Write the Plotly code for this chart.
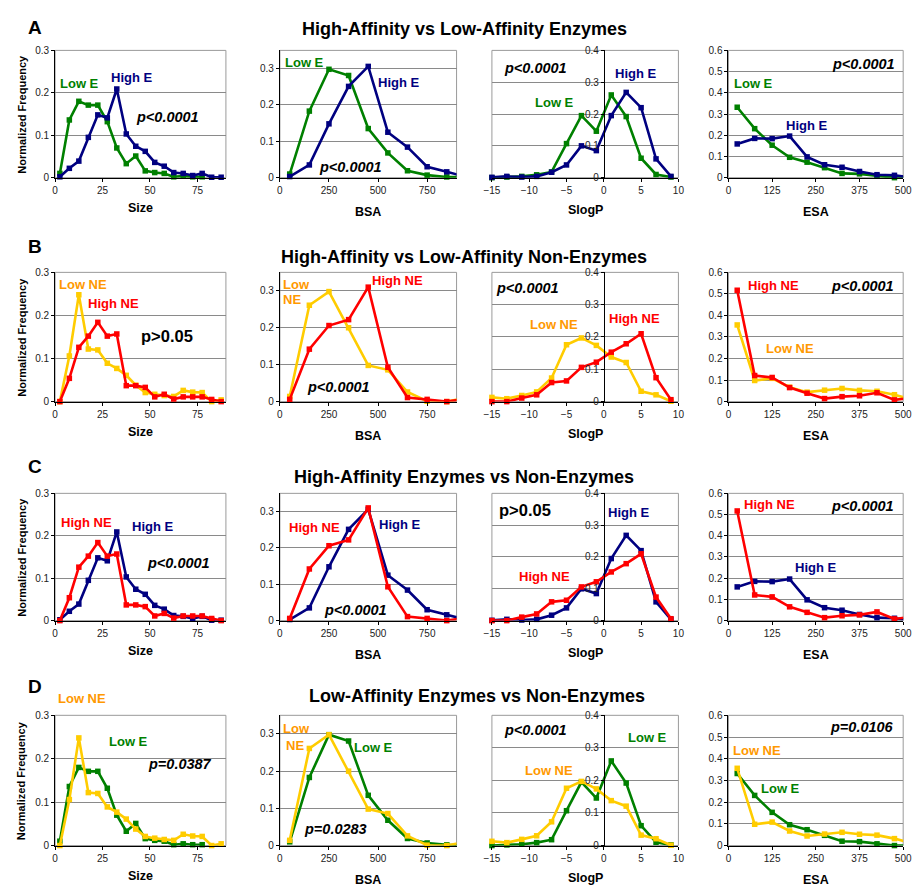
import plotly.graph_objects as go

# ---------------- data ----------------
size_x = [2.5, 7.5, 12.5, 17.5, 22.5, 27.5, 32.5, 37.5, 42.5, 47.5,
          52.5, 57.5, 62.5, 67.5, 72.5, 77.5, 82.5, 87.5]
size_high_e = [0.002, 0.022, 0.039, 0.095, 0.148, 0.141, 0.209, 0.103, 0.074, 0.062,
               0.036, 0.027, 0.012, 0.010, 0.005, 0.010, 0.001, 0.001]
size_low_e = [0.010, 0.136, 0.180, 0.171, 0.171, 0.132, 0.070, 0.033, 0.051, 0.016,
              0.012, 0.010, 0.002, 0.004, 0.002, 0.002, None, None]
size_high_ne = [0.0, 0.054, 0.126, 0.152, 0.184, 0.152, 0.157, 0.037, 0.037, 0.033,
                0.011, 0.017, 0.006, 0.011, 0.011, 0.011, 0.005, 0.0]
size_low_ne = [0.0, 0.106, 0.248, 0.122, 0.120, 0.089, 0.077, 0.061, 0.038, 0.021,
               0.017, 0.014, 0.012, 0.026, 0.022, 0.021, 0.0, 0.004]

bsa_x = [50, 150, 250, 350, 450, 550, 650, 750, 850, 950]
bsa_high_e = [0.003, 0.035, 0.148, 0.251, 0.306, 0.125, 0.084, 0.030, 0.016, 0.002]
bsa_low_e = [0.010, 0.183, 0.298, 0.281, 0.135, 0.068, 0.019, 0.007, 0.002, 0.001]
bsa_high_ne = [0.006, 0.142, 0.206, 0.222, 0.310, 0.093, 0.011, 0.006, 0.0, 0.008]
bsa_low_ne = [0.014, 0.261, 0.298, 0.200, 0.098, 0.086, 0.026, 0.001, 0.0, 0.010]

slogp_x = [-15, -13, -11, -9, -7, -5, -3, -1, 1, 3, 5, 7, 9]
slogp_high_e = [0.001, 0.004, 0.002, 0.004, 0.017, 0.040, 0.100, 0.085, 0.195, 0.268, 0.220, 0.059, 0.004]
slogp_low_e = [0.0, 0.002, 0.004, 0.009, 0.018, 0.107, 0.195, 0.146, 0.260, 0.192, 0.061, 0.010, 0.002]
slogp_high_ne = [0.0, 0.0, 0.011, 0.021, 0.059, 0.064, 0.106, 0.122, 0.153, 0.179, 0.210, 0.074, 0.006]
slogp_low_ne = [0.013, 0.009, 0.019, 0.030, 0.073, 0.176, 0.197, 0.174, 0.138, 0.121, 0.032, 0.021, 0.001]

esa_x = [25, 75, 125, 175, 225, 275, 325, 375, 425, 475, 525]
esa_high_e = [0.159, 0.185, 0.184, 0.196, 0.098, 0.061, 0.049, 0.029, 0.014, 0.011, 0.0]
esa_low_e = [0.332, 0.231, 0.153, 0.096, 0.073, 0.047, 0.020, 0.018, 0.008, 0.0, 0.0]
esa_high_ne = [0.517, 0.121, 0.112, 0.065, 0.039, 0.014, 0.023, 0.027, 0.041, 0.008, 0.018]
esa_low_ne = [0.356, 0.098, 0.108, 0.067, 0.044, 0.053, 0.061, 0.052, 0.048, 0.032, 0.010]

row_titles = ["High-Affinity vs Low-Affinity Enzymes",
              "High-Affinity vs Low-Affinity Non-Enzymes",
              "High-Affinity Enzymes vs Non-Enzymes",
              "Low-Affinity Enzymes vs Non-Enzymes"]
row_letters = ["A", "B", "C", "D"]
# series drawn in each row (first drawn underneath)
row_series = [["low_e", "high_e"], ["low_ne", "high_ne"],
              ["high_e", "high_ne"], ["low_e", "low_ne"]]

# ---------------- styling ----------------
W, H = 922, 892
FONT = "Liberation Sans, Arial, Helvetica, sans-serif"
NAVY, GREEN, RED, GOLD, ORANGE = "#000080", "#008000", "#FF0000", "#FFCC00", "#FF9900"
LINE_COL = {"high_e": NAVY, "low_e": GREEN, "high_ne": RED, "low_ne": GOLD}
GRID = "#8a8a8a"

series = {
    "size": {"high_e": size_high_e, "low_e": size_low_e, "high_ne": size_high_ne, "low_ne": size_low_ne},
    "bsa": {"high_e": bsa_high_e, "low_e": bsa_low_e, "high_ne": bsa_high_ne, "low_ne": bsa_low_ne},
    "slogp": {"high_e": slogp_high_e, "low_e": slogp_low_e, "high_ne": slogp_high_ne, "low_ne": slogp_low_ne},
    "esa": {"high_e": esa_high_e, "low_e": esa_low_e, "high_ne": esa_high_ne, "low_ne": esa_low_ne},
}

panels = [
    dict(key="size", x=size_x, xr=[0, 90], dt=25, ymax=0.3, title="Size", off=31, cx=(48, 222)),
    dict(key="bsa", x=bsa_x, xr=[0, 900], dt=250, ymax=0.35, title="BSA", off=35, cx=(277, 457)),
    dict(key="slogp", x=slogp_x, xr=[-15, 10], dt=5, ymax=0.4, title="SlogP", off=33, cx=(493, 683)),
    dict(key="esa", x=esa_x, xr=[0, 500], dt=125, ymax=0.6, title="ESA", off=35, cx=(734, 912)),
]
rows_px = [(45, 174), (270, 401), (494, 623), (719, 851)]
title_px = [(465, 23), (465, 254), (465, 477), (478, 699)]
letter_px = [(28, 22), (28, 244), (28, 467), (28, 690)]

# in-panel labels: (row, col, text, x_px, y_px, color, kind)
labels = [
    (0, 0, "Low E", 73, 79, GREEN, "lab"), (0, 0, "High E", 126, 72, NAVY, "lab"),
    (0, 0, "p&lt;0.0001", 163, 113, "black", "p"),
    (0, 1, "Low E", 302, 57, GREEN, "lab"), (0, 1, "High E", 398, 78, NAVY, "lab"),
    (0, 1, "p&lt;0.0001", 349, 163, "black", "p"),
    (0, 2, "p&lt;0.0001", 537, 63, "black", "p"), (0, 2, "High E", 639, 68, NAVY, "lab"),
    (0, 2, "Low E", 557, 98, GREEN, "lab"),
    (0, 3, "p&lt;0.0001", 872, 59, "black", "p"), (0, 3, "Low E", 759, 79, GREEN, "lab"),
    (0, 3, "High E", 813, 121, NAVY, "lab"),

    (1, 0, "Low NE", 76, 282, ORANGE, "lab"), (1, 0, "High NE", 107, 302, RED, "lab"),
    (1, 0, "p&gt;0.05", 162, 335, "black", "pbig"),
    (1, 1, "Low", 294, 282, ORANGE, "lab"), (1, 1, "NE", 289, 298, ORANGE, "lab"),
    (1, 1, "High NE", 397, 278, RED, "lab"), (1, 1, "p&lt;0.0001", 337, 386, "black", "p"),
    (1, 2, "p&lt;0.0001", 529, 286, "black", "p"), (1, 2, "Low NE", 556, 323, ORANGE, "lab"),
    (1, 2, "High NE", 638, 317, RED, "lab"),
    (1, 3, "High NE", 780, 283, RED, "lab"), (1, 3, "p&lt;0.0001", 871, 284, "black", "p"),
    (1, 3, "Low NE", 797, 347, ORANGE, "lab"),

    (2, 0, "High NE", 80, 524, RED, "lab"), (2, 0, "High E", 147, 528, NAVY, "lab"),
    (2, 0, "p&lt;0.0001", 174, 565, "black", "p"),
    (2, 1, "High NE", 312, 529, RED, "lab"), (2, 1, "High E", 399, 526, NAVY, "lab"),
    (2, 1, "p&lt;0.0001", 354, 612, "black", "p"),
    (2, 2, "p&gt;0.05", 527, 511, "black", "pbig"), (2, 2, "High E", 632, 513, NAVY, "lab"),
    (2, 2, "High NE", 547, 578, RED, "lab"),
    (2, 3, "High NE", 776, 505, RED, "lab"), (2, 3, "p&lt;0.0001", 871, 507, "black", "p"),
    (2, 3, "High E", 823, 569, NAVY, "lab"),

    (3, 0, "Low NE", 75, 702, ORANGE, "lab"), (3, 0, "Low E", 123, 746, GREEN, "lab"),
    (3, 0, "p=0.0387", 175, 768, "black", "p"),
    (3, 1, "Low", 294, 732, ORANGE, "lab"), (3, 1, "NE", 292, 750, ORANGE, "lab"),
    (3, 1, "Low E", 372, 752, GREEN, "lab"), (3, 1, "p=0.0283", 334, 834, "black", "p"),
    (3, 2, "p&lt;0.0001", 537, 734, "black", "p"), (3, 2, "Low NE", 551, 775, ORANGE, "lab"),
    (3, 2, "Low E", 652, 741, GREEN, "lab"),
    (3, 3, "p=0.0106", 870, 731, "black", "p"), (3, 3, "Low NE", 763, 755, ORANGE, "lab"),
    (3, 3, "Low E", 787, 793, GREEN, "lab"),
]


def px_x(v):
    return v / W


def px_y(v):
    return 1 - v / H


fig = go.Figure()
layout = {}
shapes = []
annotations = []

for r in range(4):
    top, bot = rows_px[r]
    for c, p in enumerate(panels):
        idx = r * 4 + c + 1
        sfx = "" if idx == 1 else str(idx)
        xa, ya = "x" + sfx, "y" + sfx
        vals = series[p["key"]]
        for s in row_series[r]:
            col = LINE_COL[s]
            ys = vals[s]
            fig.add_trace(go.Scatter(x=p["x"], y=ys, xaxis=xa, yaxis=ya, mode="lines",
                                     line=dict(color=col, width=2.6), showlegend=False,
                                     hoverinfo="skip"))
            # markers only for points inside the plotted x range
            mx = [xv for xv, yv in zip(p["x"], ys) if yv is not None and p["xr"][0] <= xv <= p["xr"][1]]
            my = [yv for xv, yv in zip(p["x"], ys) if yv is not None and p["xr"][0] <= xv <= p["xr"][1]]
            fig.add_trace(go.Scatter(x=mx, y=my, xaxis=xa, yaxis=ya, mode="markers",
                                     marker=dict(color=col, size=5.5, symbol="square"),
                                     cliponaxis=False, showlegend=False))

        x0, x1 = p["cx"]
        layout["xaxis" + sfx] = dict(
            domain=[px_x(x0), px_x(x1)], anchor=ya, range=p["xr"], dtick=p["dt"], tick0=0,
            showgrid=False, zeroline=False, showline=True, linecolor="black", linewidth=1,
            ticks="outside", ticklen=3, tickcolor="black",
            tickfont=dict(family=FONT, size=10, color="#222"),
        )
        ydict = dict(
            domain=[px_y(bot), px_y(top)], range=[0, p["ymax"]], dtick=0.1, tick0=0,
            showgrid=True, gridcolor=GRID, gridwidth=1, zeroline=False,
            showline=True, linecolor="black", linewidth=1,
            ticks="outside", ticklen=3, tickcolor="black",
            tickfont=dict(family=FONT, size=10, color="#222"),
        )
        if p["key"] == "slogp":
            # vertical axis crosses at SlogP = 0
            zero_px = x0 + (0 - p["xr"][0]) / (p["xr"][1] - p["xr"][0]) * (x1 - x0)
            ydict.update(anchor="free", position=px_x(zero_px))
        else:
            ydict.update(anchor=xa)
        layout["yaxis" + sfx] = ydict

        # light grey plot-area frame
        shapes.append(dict(type="rect", xref=f"{xa} domain", yref=f"{ya} domain",
                           x0=0, x1=1, y0=0, y1=1, line=dict(color="#9a9a9a", width=1),
                           layer="below"))

        # axis title
        annotations.append(dict(x=px_x((x0 + x1) / 2), y=px_y(bot + p["off"]), xref="paper",
                                yref="paper", text=p["title"], showarrow=False,
                                font=dict(family=FONT, size=12.5, color="black", weight="bold"),
                                xanchor="center", yanchor="middle"))

    # y title on first column
    annotations.append(dict(x=px_x(14), y=px_y((top + bot) / 2), xref="paper", yref="paper",
                            text="Normalized Frequency", textangle=-90, showarrow=False,
                            font=dict(family=FONT, size=11, color="black", weight="bold"),
                            xanchor="center", yanchor="middle"))
    # row title and letter
    tx, ty = title_px[r]
    annotations.append(dict(x=px_x(tx), y=px_y(ty), xref="paper", yref="paper",
                            text=row_titles[r], showarrow=False,
                            font=dict(family=FONT, size=18, color="black", weight="bold"),
                            xanchor="center", yanchor="middle"))
    lx, ly = letter_px[r]
    annotations.append(dict(x=px_x(lx), y=px_y(ly), xref="paper", yref="paper",
                            text=row_letters[r], showarrow=False,
                            font=dict(family=FONT, size=19, color="black", weight="bold"),
                            xanchor="center", yanchor="middle"))

for (r, c, text, lx, ly, col, kind) in labels:
    if kind == "lab":
        f = dict(family=FONT, size=13, color=col, weight="bold")
    elif kind == "p":
        f = dict(family=FONT, size=14.5, color=col, weight="bold", style="italic")
    else:
        f = dict(family=FONT, size=16.5, color=col, weight="bold")
    annotations.append(dict(x=px_x(lx), y=px_y(ly), xref="paper", yref="paper", text=text,
                            showarrow=False, font=f, xanchor="center", yanchor="middle"))

fig.update_layout(
    width=W, height=H, margin=dict(l=0, r=0, t=0, b=0),
    paper_bgcolor="white", plot_bgcolor="white",
    shapes=shapes, annotations=annotations, showlegend=False,
    **layout,
)

fig.write_html("out.html")
